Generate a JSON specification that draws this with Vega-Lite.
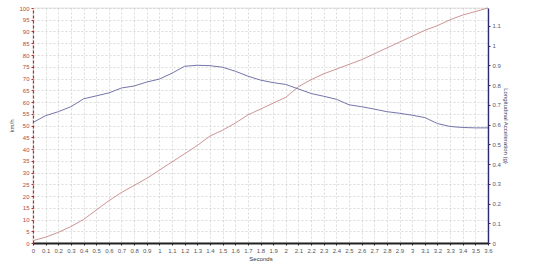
{
  "$schema": "https://vega.github.io/schema/vega-lite/v6.json",
  "width": 455,
  "height": 235,
  "autosize": {"type": "none"},
  "padding": {"left": 33, "top": 8, "right": 62, "bottom": 23},
  "background": "white",
  "config": {
    "view": {"stroke": "#cccccc", "strokeWidth": 0.6},
    "axis": {"labelFont": "Liberation Sans", "titleFont": "Liberation Sans", "labelFontSize": 6, "titleFontSize": 6, "titleFontWeight": "normal", "tickSize": 2, "labelPadding": 2}
  },
  "data": {"values": [
    {"t": 0.0, "speed": 1.0, "accel": 0.61},
    {"t": 0.1, "speed": 2.5, "accel": 0.645},
    {"t": 0.2, "speed": 4.5, "accel": 0.665},
    {"t": 0.3, "speed": 7.0, "accel": 0.69},
    {"t": 0.4, "speed": 10.0, "accel": 0.73},
    {"t": 0.5, "speed": 14.0, "accel": 0.745},
    {"t": 0.6, "speed": 18.0, "accel": 0.76},
    {"t": 0.7, "speed": 21.5, "accel": 0.785},
    {"t": 0.8, "speed": 24.5, "accel": 0.795},
    {"t": 0.9, "speed": 27.5, "accel": 0.815},
    {"t": 1.0, "speed": 31.0, "accel": 0.83},
    {"t": 1.1, "speed": 34.5, "accel": 0.86},
    {"t": 1.2, "speed": 38.0, "accel": 0.895},
    {"t": 1.3, "speed": 41.5, "accel": 0.9},
    {"t": 1.4, "speed": 45.5, "accel": 0.898},
    {"t": 1.5, "speed": 48.0, "accel": 0.89},
    {"t": 1.6, "speed": 51.0, "accel": 0.87},
    {"t": 1.7, "speed": 54.5, "accel": 0.845},
    {"t": 1.8, "speed": 57.0, "accel": 0.825},
    {"t": 1.9, "speed": 59.5, "accel": 0.812},
    {"t": 2.0, "speed": 62.0, "accel": 0.803},
    {"t": 2.1, "speed": 66.5, "accel": 0.78},
    {"t": 2.2, "speed": 69.5, "accel": 0.757},
    {"t": 2.3, "speed": 72.0, "accel": 0.743},
    {"t": 2.4, "speed": 74.0, "accel": 0.728},
    {"t": 2.5, "speed": 76.0, "accel": 0.7},
    {"t": 2.6, "speed": 78.0, "accel": 0.69},
    {"t": 2.7, "speed": 80.5, "accel": 0.678},
    {"t": 2.8, "speed": 83.0, "accel": 0.665},
    {"t": 2.9, "speed": 85.5, "accel": 0.657},
    {"t": 3.0, "speed": 88.0, "accel": 0.647},
    {"t": 3.1, "speed": 90.5, "accel": 0.635},
    {"t": 3.2, "speed": 92.5, "accel": 0.605},
    {"t": 3.3, "speed": 95.0, "accel": 0.59},
    {"t": 3.4, "speed": 97.0, "accel": 0.585},
    {"t": 3.5, "speed": 98.5, "accel": 0.583},
    {"t": 3.6, "speed": 100.0, "accel": 0.583}
  ]},
  "encoding": {
    "x": {
      "field": "t", "type": "quantitative", "title": "Seconds",
      "scale": {"domain": [0, 3.6], "nice": false, "zero": false},
      "axis": {
        "values": [0,0.1,0.2,0.3,0.4,0.5,0.6,0.7,0.8,0.9,1,1.1,1.2,1.3,1.4,1.5,1.6,1.7,1.8,1.9,2,2.1,2.2,2.3,2.4,2.5,2.6,2.7,2.8,2.9,3,3.1,3.2,3.3,3.4,3.5,3.6],
        "format": ".1~f", "labelFlush": false, "labelOverlap": false,
        "grid": true, "gridColor": "#c4c4c4", "gridDash": [2, 2], "gridWidth": 0.6,
        "domainColor": "#222222", "domainWidth": 2, "tickColor": "#222222",
        "labelColor": "#555555", "titlePadding": 2, "titleColor": "#333333"
      }
    }
  },
  "layer": [
    {
      "mark": {"type": "line", "color": "#c07878", "strokeWidth": 0.8},
      "encoding": {
        "y": {
          "field": "speed", "type": "quantitative", "title": "km/h",
          "scale": {"domain": [0, 100], "nice": false},
          "axis": {
            "orient": "left",
            "values": [0,5,10,15,20,25,30,35,40,45,50,55,60,65,70,75,80,85,90,95,100],
            "grid": true, "gridColor": "#c4c4c4", "gridDash": [2, 2], "gridWidth": 0.6,
            "domainColor": "#b03030", "domainDash": [3, 2], "domainWidth": 1.2,
            "tickColor": "#b03030", "labelColor": "#b04848", "titleColor": "#555555",
            "titlePadding": 4
          }
        }
      }
    },
    {
      "mark": {"type": "line", "color": "#6464a0", "strokeWidth": 0.9},
      "encoding": {
        "y": {
          "field": "accel", "type": "quantitative", "title": "Longitudinal Acceleration (g)",
          "scale": {"domain": [0, 1.19], "nice": false},
          "axis": {
            "orient": "right",
            "values": [0,0.1,0.2,0.3,0.4,0.5,0.6,0.7,0.8,0.9,1,1.1],
            "format": ".1~f",
            "grid": false,
            "domainColor": "#2a2a70", "domainWidth": 1.4,
            "tickColor": "#2a2a70", "labelColor": "#555570", "titleColor": "#444466",
            "titlePadding": 2
          }
        }
      }
    }
  ],
  "resolve": {"scale": {"y": "independent"}}
}
